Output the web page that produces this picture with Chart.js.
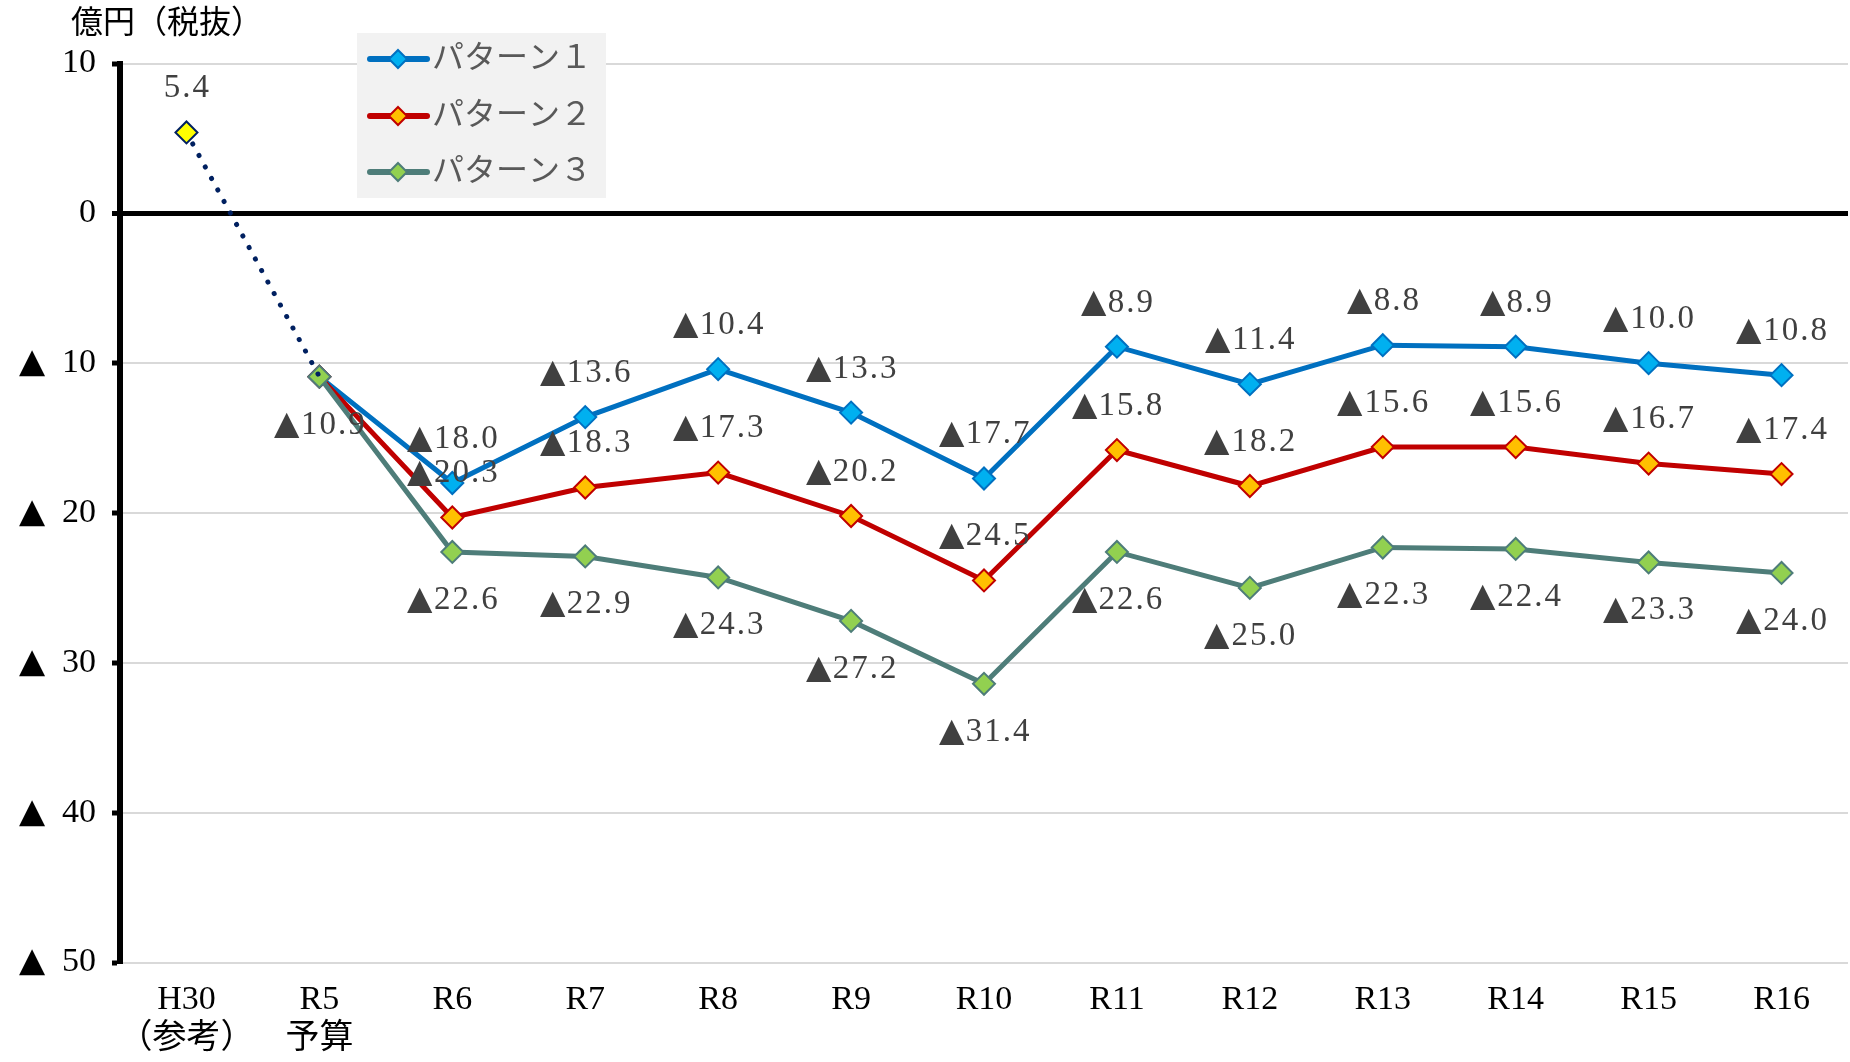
<!DOCTYPE html>
<html>
<head>
<meta charset="utf-8">
<script src="https://cdn.jsdelivr.net/npm/chart.js@4"></script>
<style>
@font-face { font-family: 'TriMark'; src: local('DejaVu Sans'), local('DejaVuSans'); unicode-range: U+25B2; }
html,body{margin:0;padding:0;background:#fff;}
canvas{display:block;}
</style>
</head>
<body>
<canvas id="c" width="1850" height="1062"></canvas>
<script>
const categories = [["H30","（参考）"],["R5","予算"],"R6","R7","R8","R9","R10","R11","R12","R13","R14","R15","R16"];
const referenceValues = [5.4, -10.9, null, null, null, null, null, null, null, null, null, null, null];
const pattern1 = [null, -10.9, -18.0, -13.6, -10.4, -13.3, -17.7, -8.9, -11.4, -8.8, -8.9, -10.0, -10.8];
const pattern2 = [null, -10.9, -20.3, -18.3, -17.3, -20.2, -24.5, -15.8, -18.2, -15.6, -15.6, -16.7, -17.4];
const pattern3 = [null, -10.9, -22.6, -22.9, -24.3, -27.2, -31.4, -22.6, -25.0, -22.3, -22.4, -23.3, -24.0];
const seriesNames = ["パターン１","パターン２","パターン３"];
const yTicks = [10, 0, -10, -20, -30, -40, -50];
const unitLabel = "億円（税抜）";

const FONT = "'TriMark','Liberation Serif','Noto Sans CJK JP',serif";
const FS = 34;

function fmt(v){ return v < 0 ? '▲' + Math.abs(v).toFixed(1) : v.toFixed(1); }

// which indices get a data label and where (above: -1, below: +1)
const labelSpec = [
  {show: i => i <= 1, dir: i => i === 0 ? -1 : 1},
  {show: i => i >= 2, dir: () => -1},
  {show: i => i >= 2, dir: () => -1},
  {show: i => i >= 2, dir: () => 1}
];

const dataLabelPlugin = {
  id: 'dataLabels',
  afterDatasetsDraw(chart){
    const ctx = chart.ctx;
    ctx.save();
    ctx.font = '33px ' + FONT;
    if ('letterSpacing' in ctx) ctx.letterSpacing = '2px';
    ctx.fillStyle = '#404040';
    ctx.textAlign = 'center';
    ctx.textBaseline = 'alphabetic';
    chart.data.datasets.forEach((ds, di) => {
      const meta = chart.getDatasetMeta(di);
      const spec = labelSpec[di];
      ds.data.forEach((v, i) => {
        if (v === null || !spec.show(i)) return;
        const pt = meta.data[i];
        const cy = pt.y + spec.dir(i) * 46;
        ctx.fillText(fmt(v), pt.x + 1, cy + 0.33 * 33);
      });
    });
    ctx.restore();
  }
};

const extrasPlugin = {
  id: 'extras',
  afterDraw(chart){
    const ctx = chart.ctx;
    ctx.save();
    // unit label
    ctx.font = '32px ' + FONT;
    ctx.fillStyle = '#000';
    ctx.textAlign = 'left';
    ctx.textBaseline = 'middle';
    ctx.fillText(unitLabel, 71, 25);
    // legend
    const bx = 357, by = 33, bw = 249, bh = 165;
    ctx.fillStyle = '#F2F2F2';
    ctx.fillRect(bx, by, bw, bh);
    const ys = [59, 116, 172];
    for (let k = 0; k < 3; k++) {
      const ds = chart.data.datasets[k + 1];
      const y = ys[k];
      ctx.strokeStyle = ds.borderColor;
      ctx.lineWidth = 6;
      ctx.lineCap = 'round';
      ctx.beginPath();
      ctx.moveTo(370, y);
      ctx.lineTo(427, y);
      ctx.stroke();
      const r = 9;
      ctx.beginPath();
      ctx.moveTo(398, y - r); ctx.lineTo(398 + r, y); ctx.lineTo(398, y + r); ctx.lineTo(398 - r, y); ctx.closePath();
      ctx.fillStyle = ds.pointBackgroundColor;
      ctx.fill();
      ctx.lineWidth = 2;
      ctx.strokeStyle = ds.pointBorderColor;
      ctx.stroke();
      ctx.font = '32px ' + FONT;
      ctx.fillStyle = '#595959';
      ctx.textAlign = 'left';
      ctx.textBaseline = 'middle';
      ctx.fillText(seriesNames[k], 432, y + 1);
    }
    ctx.restore();
  }
};

function build(){
new Chart(document.getElementById('c'), {
  type: 'line',
  data: {
    labels: categories,
    datasets: [
      {
        label: 'H30',
        data: referenceValues,
        borderColor: '#002060',
        borderWidth: 5,
        borderDash: [0.1, 13],
        borderCapStyle: 'round',
        pointStyle: 'rectRot',
        pointRadius: [11, 0],
        pointBackgroundColor: '#FFFF00',
        pointBorderColor: '#002060',
        pointBorderWidth: 2,
        spanGaps: false,
        order: 0
      },
      {
        label: seriesNames[0],
        data: pattern1,
        borderColor: '#0070C0',
        borderWidth: 5,
        pointStyle: 'rectRot',
        pointRadius: 11,
        pointBackgroundColor: '#00B0F0',
        pointBorderColor: '#0070C0',
        pointBorderWidth: 2,
        order: 3
      },
      {
        label: seriesNames[1],
        data: pattern2,
        borderColor: '#C00000',
        borderWidth: 5,
        pointStyle: 'rectRot',
        pointRadius: 11,
        pointBackgroundColor: '#FFC000',
        pointBorderColor: '#C00000',
        pointBorderWidth: 2,
        order: 2
      },
      {
        label: seriesNames[2],
        data: pattern3,
        borderColor: '#4E7D79',
        borderWidth: 5,
        pointStyle: 'rectRot',
        pointRadius: 11,
        pointBackgroundColor: '#92D050',
        pointBorderColor: '#4E7D79',
        pointBorderWidth: 2,
        order: 1
      }
    ]
  },
  options: {
    responsive: false,
    animation: false,
    devicePixelRatio: 1,
    layout: {autoPadding: false, padding: {top: 63.5, right: 2, left: 0, bottom: 0}},
    plugins: {legend: {display: false}, tooltip: {enabled: false}, title: {display: false}},
    elements: {line: {tension: 0}},
    scales: {
      x: {
        offset: true,
        grid: {display: false, drawTicks: false},
        border: {display: false},
        ticks: {
          color: '#000',
          font: {family: FONT, size: FS, lineHeight: 1.15},
          padding: 18,
          maxRotation: 0,
          autoSkip: false
        },
        afterFit(s){ s.height = 99.5; s.paddingLeft = 0; s.paddingRight = 0; }
      },
      y: {
        min: -50,
        max: 10,
        afterBuildTicks(s){ s.ticks = yTicks.map(v => ({value: v})); },
        ticks: {
          color: '#000',
          font: {family: FONT, size: FS},
          padding: 16,
          callback: v => v < 0 ? '▲  ' + Math.abs(v) : String(v)
        },
        grid: {
          color: c => (c.tick && c.tick.value === 0) ? '#000' : '#D9D9D9',
          lineWidth: c => (c.tick && c.tick.value === 0) ? 5 : 2,
          tickColor: '#000',
          tickLength: 8,
          tickWidth: 5,
          drawTicks: true
        },
        border: {display: true, color: '#000', width: 6},
        afterFit(s){ s.width = 120; }
      }
    }
  },
  plugins: [dataLabelPlugin, extrasPlugin]
});
}
Promise.all([
  document.fonts.load("34px 'TriMark'", "▲"),
  document.fonts.load("34px 'Liberation Serif'", "0123456789"),
  document.fonts.load("32px 'Noto Sans CJK JP'", "億円税抜パターン参考予算")
]).catch(()=>{}).then(build);
</script>
</body>
</html>
